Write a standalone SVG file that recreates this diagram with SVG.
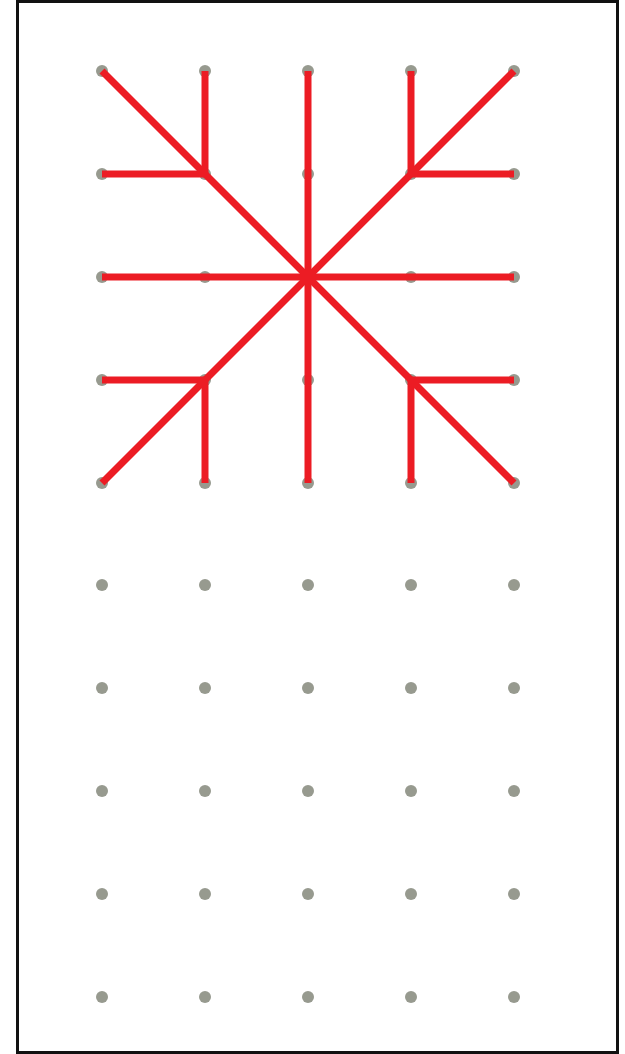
<svg xmlns="http://www.w3.org/2000/svg" width="625" height="1054" viewBox="0 0 625 1054">
<style>
.dot{fill:#979a8f}
.ln{stroke:#ec1c24;stroke-width:7;fill:none;stroke-linecap:butt}
</style>
<rect x="0" y="0" width="625" height="1054" fill="#fff"/>
<g id="frame">
<rect x="17.5" y="1.5" width="600" height="1051" fill="none" stroke="#111" stroke-width="3"/>
</g>
<g id="dots">
<g id="row1"><circle class="dot" cx="102" cy="71" r="6"/><circle class="dot" cx="205" cy="71" r="6"/><circle class="dot" cx="308" cy="71" r="6"/><circle class="dot" cx="411" cy="71" r="6"/><circle class="dot" cx="514" cy="71" r="6"/></g>
<g id="row2"><circle class="dot" cx="102" cy="174" r="6"/><circle class="dot" cx="205" cy="174" r="6"/><circle class="dot" cx="308" cy="174" r="6"/><circle class="dot" cx="411" cy="174" r="6"/><circle class="dot" cx="514" cy="174" r="6"/></g>
<g id="row3"><circle class="dot" cx="102" cy="277" r="6"/><circle class="dot" cx="205" cy="277" r="6"/><circle class="dot" cx="308" cy="277" r="6"/><circle class="dot" cx="411" cy="277" r="6"/><circle class="dot" cx="514" cy="277" r="6"/></g>
<g id="row4"><circle class="dot" cx="102" cy="380" r="6"/><circle class="dot" cx="205" cy="380" r="6"/><circle class="dot" cx="308" cy="380" r="6"/><circle class="dot" cx="411" cy="380" r="6"/><circle class="dot" cx="514" cy="380" r="6"/></g>
<g id="row5"><circle class="dot" cx="102" cy="483" r="6"/><circle class="dot" cx="205" cy="483" r="6"/><circle class="dot" cx="308" cy="483" r="6"/><circle class="dot" cx="411" cy="483" r="6"/><circle class="dot" cx="514" cy="483" r="6"/></g>
<g id="row6"><circle class="dot" cx="102" cy="585" r="6"/><circle class="dot" cx="205" cy="585" r="6"/><circle class="dot" cx="308" cy="585" r="6"/><circle class="dot" cx="411" cy="585" r="6"/><circle class="dot" cx="514" cy="585" r="6"/></g>
<g id="row7"><circle class="dot" cx="102" cy="688" r="6"/><circle class="dot" cx="205" cy="688" r="6"/><circle class="dot" cx="308" cy="688" r="6"/><circle class="dot" cx="411" cy="688" r="6"/><circle class="dot" cx="514" cy="688" r="6"/></g>
<g id="row8"><circle class="dot" cx="102" cy="791" r="6"/><circle class="dot" cx="205" cy="791" r="6"/><circle class="dot" cx="308" cy="791" r="6"/><circle class="dot" cx="411" cy="791" r="6"/><circle class="dot" cx="514" cy="791" r="6"/></g>
<g id="row9"><circle class="dot" cx="102" cy="894" r="6"/><circle class="dot" cx="205" cy="894" r="6"/><circle class="dot" cx="308" cy="894" r="6"/><circle class="dot" cx="411" cy="894" r="6"/><circle class="dot" cx="514" cy="894" r="6"/></g>
<g id="row10"><circle class="dot" cx="102" cy="997" r="6"/><circle class="dot" cx="205" cy="997" r="6"/><circle class="dot" cx="308" cy="997" r="6"/><circle class="dot" cx="411" cy="997" r="6"/><circle class="dot" cx="514" cy="997" r="6"/></g>
</g>
<g id="connectors">
<line class="ln" x1="102" y1="71" x2="514" y2="483"/>
<line class="ln" x1="514" y1="71" x2="102" y2="483"/>
<line class="ln" x1="102" y1="277" x2="514" y2="277"/>
<line class="ln" x1="308" y1="71" x2="308" y2="483"/>
<polyline class="ln" points="205,71 205,174 102,174"/>
<polyline class="ln" points="411,71 411,174 514,174"/>
<polyline class="ln" points="102,380 205,380 205,483"/>
<polyline class="ln" points="514,380 411,380 411,483"/>
</g>
</svg>
